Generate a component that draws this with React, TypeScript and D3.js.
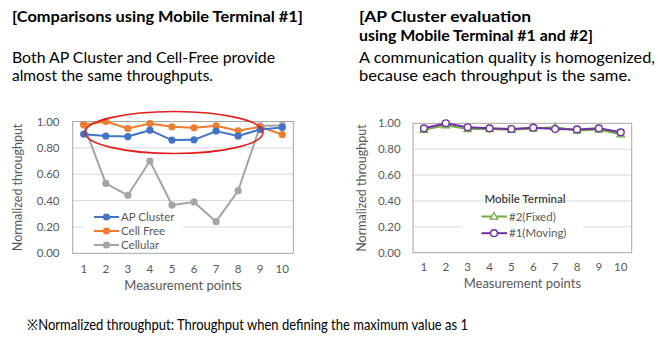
import React from "react";
import * as d3 from "d3";

const points = ["1", "2", "3", "4", "5", "6", "7", "8", "9", "10"];
const yTicks = [0, 0.2, 0.4, 0.6, 0.8, 1.0];

const apCluster = [0.904, 0.89, 0.886, 0.934, 0.859, 0.861, 0.927, 0.89, 0.94, 0.955];
const cellFree = [0.975, 1.0, 0.947, 0.985, 0.96, 0.952, 0.967, 0.93, 0.96, 0.9];
const cellular = [0.977, 0.53, 0.44, 0.7, 0.366, 0.39, 0.24, 0.475, 0.967, 0.97];

const fixed2 = [0.95, 0.985, 0.955, 0.955, 0.95, 0.96, 0.97, 0.945, 0.952, 0.915];
const moving1 = [0.961, 1.0, 0.969, 0.961, 0.956, 0.966, 0.956, 0.953, 0.961, 0.93];

const FONT = "Lato, 'Open Sans', sans-serif";
const GRID = "#D9D9D9";
const FRAME = "#A6A6A6";
const TXT = "#595959";

type Series = { name: string; values: number[]; color: string; marker: "dot" | "circle" | "tri" };

const leftSeries: Series[] = [
  { name: "Cellular", values: cellular, color: "#A5A5A5", marker: "dot" },
  { name: "Cell Free", values: cellFree, color: "#ED7D31", marker: "dot" },
  { name: "AP Cluster", values: apCluster, color: "#4472C4", marker: "dot" },
];
const leftLegend = ["AP Cluster", "Cell Free", "Cellular"];

const rightSeries: Series[] = [
  { name: "#2(Fixed)", values: fixed2, color: "#70AD47", marker: "tri" },
  { name: "#1(Moving)", values: moving1, color: "#7030A0", marker: "circle" },
];

function Marker({ s, x, y }: { s: Series; x: number; y: number }) {
  if (s.marker === "dot") return <circle cx={x} cy={y} r={3.6} fill={s.color} />;
  if (s.marker === "circle")
    return <circle cx={x} cy={y} r={3.4} fill="white" stroke={s.color} strokeWidth={1.4} />;
  const h = 6.5;
  const w = 7.5;
  return (
    <path
      d={`M${x},${y - h * 0.6}L${x + w / 2},${y + h * 0.4}L${x - w / 2},${y + h * 0.4}Z`}
      fill="white"
      stroke={s.color}
      strokeWidth={1.3}
    />
  );
}

function Chart({
  x0, x1, yTop, yBot, labelRight, yTitleX, xTickY, xTitleY, series, legend,
}: {
  x0: number; x1: number; yTop: number; yBot: number; labelRight: number; yTitleX: number;
  xTickY: number; xTitleY: number; series: Series[]; legend: React.ReactNode;
}) {
  const x = d3.scalePoint<string>().domain(points).range([x0, x1]).padding(0.5);
  const y = d3.scaleLinear().domain([0, 1]).range([yBot, yTop]);
  const line = d3
    .line<number>()
    .x((_, i) => x(points[i]) as number)
    .y((d) => y(d));
  return (
    <g>
      {yTicks.map((t) => (
        <g key={t}>
          {t > 0 && t < 1 && <line x1={x0} x2={x1} y1={y(t)} y2={y(t)} stroke={GRID} strokeWidth={1} />}
          <text x={labelRight} y={y(t) + 4} textAnchor="end" fontSize={11.5} fill={TXT} fontFamily={FONT}>
            {d3.format(".2f")(t)}
          </text>
        </g>
      ))}
      <rect x={x0} y={yTop} width={x1 - x0} height={yBot - yTop} fill="none" stroke={FRAME} strokeWidth={1} />
      {points.map((p) => (
        <text key={p} x={x(p)} y={xTickY} textAnchor="middle" fontSize={11.5} fill={TXT} fontFamily={FONT}>
          {p}
        </text>
      ))}
      <text
        transform={`translate(${yTitleX},${(yTop + yBot) / 2}) rotate(-90)`}
        textAnchor="middle"
        fontSize={12.5}
        fill={TXT}
        fontFamily={FONT}
        dy="0.35em"
      >
        Normalized throughput
      </text>
      <text x={(x0 + x1) / 2} y={xTitleY} textAnchor="middle" fontSize={13} fill={TXT} fontFamily={FONT}>
        Measurement points
      </text>
      {legend}
      {series.map((s) => (
        <g key={s.name}>
          <path d={line(s.values) || ""} fill="none" stroke={s.color} strokeWidth={2} strokeLinejoin="round" />
          {s.values.map((v, i) => (
            <Marker key={i} s={s} x={x(points[i]) as number} y={y(v)} />
          ))}
        </g>
      ))}
    </g>
  );
}

export default function App() {
  const leftLeg = (
    <g>
      <rect x={84} y={208} width={99} height={44} fill="white" />
      {leftLegend.map((n, i) => {
        const s = leftSeries.find((d) => d.name === n)!;
        const cy = 217 + i * 14;
        return (
          <g key={n}>
            <line x1={94} x2={119} y1={cy} y2={cy} stroke={s.color} strokeWidth={2} />
            <Marker s={s} x={106.5} y={cy} />
            <text x={121} y={cy + 4} fontSize={11.5} fill={TXT} fontFamily={FONT}>
              {n}
            </text>
          </g>
        );
      })}
    </g>
  );
  const rightLeg = (
    <g>
      <rect x={484} y={194} width={81} height={12} fill="white" />
      <rect x={462} y={206} width={121} height={36} fill="white" />
      <text x={525} y={203} textAnchor="middle" fontSize={11.5} fontWeight={600} fill="#404040" fontFamily={FONT}>
        Mobile Terminal
      </text>
      {rightSeries.map((s, i) => {
        const cy = 216.5 + i * 16.7;
        return (
          <g key={s.name}>
            <line x1={481.5} x2={507} y1={cy} y2={cy} stroke={s.color} strokeWidth={2} />
            <Marker s={s} x={494} y={cy} />
            <text x={509} y={cy + 4} fontSize={11.5} fill={TXT} fontFamily={FONT}>
              {s.name}
            </text>
          </g>
        );
      })}
    </g>
  );
  return (
    <svg width={658} height={347} style={{ position: "absolute", left: 0, top: 0, background: "white" }}>
      <rect width={658} height={347} fill="white" />
      <g fontFamily={FONT} fill="#000">
        <text x={12} y={22} fontSize={15} fontWeight={700} textLength={291} lengthAdjust="spacingAndGlyphs">
          [Comparisons using Mobile Terminal #1]
        </text>
        <text x={12} y={63} fontSize={15} textLength={263} lengthAdjust="spacingAndGlyphs">
          Both AP Cluster and Cell-Free provide
        </text>
        <text x={12} y={81} fontSize={15} textLength={201} lengthAdjust="spacingAndGlyphs">
          almost the same throughputs.
        </text>
        <text x={359} y={22} fontSize={15} fontWeight={700} textLength={172} lengthAdjust="spacingAndGlyphs">
          [AP Cluster evaluation
        </text>
        <text x={359} y={41} fontSize={15} fontWeight={700} textLength={234} lengthAdjust="spacingAndGlyphs">
          using Mobile Terminal #1 and #2]
        </text>
        <text x={359} y={63} fontSize={15} textLength={296} lengthAdjust="spacingAndGlyphs">
          A communication quality is homogenized,
        </text>
        <text x={359} y={81} fontSize={15} textLength={272} lengthAdjust="spacingAndGlyphs">
          because each throughput is the same.
        </text>
        <text x={27} y={330} fontSize={15} textLength={441} lengthAdjust="spacingAndGlyphs">
          ※Normalized throughput: Throughput when defining the maximum value as 1
        </text>
      </g>
      <Chart
        x0={72.7}
        x1={293.3}
        yTop={121.5}
        yBot={253.3}
        labelRight={59.5}
        yTitleX={18}
        xTickY={272.5}
        xTitleY={289.5}
        series={leftSeries}
        legend={leftLeg}
      />
      <Chart
        x0={413}
        x1={631.7}
        yTop={123.3}
        yBot={252.7}
        labelRight={400.7}
        yTitleX={361.7}
        xTickY={271}
        xTitleY={287.5}
        series={rightSeries}
        legend={rightLeg}
      />
      <ellipse cx={174} cy={132.5} rx={89} ry={21} fill="none" stroke="#E0201E" strokeWidth={1.6} />
    </svg>
  );
}
